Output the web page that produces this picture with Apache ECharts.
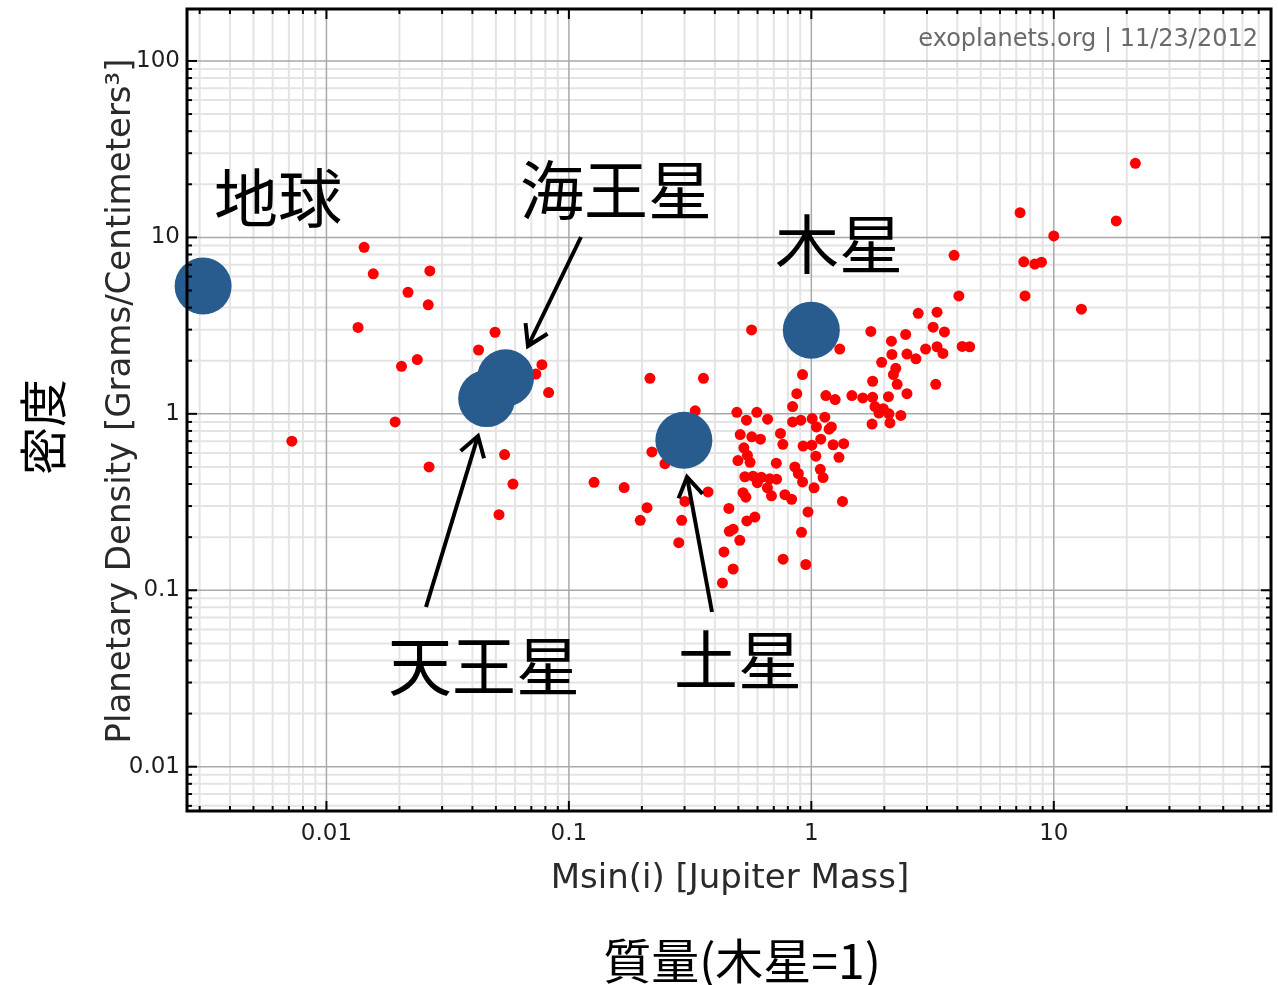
<!DOCTYPE html>
<html>
<head>
<meta charset="utf-8">
<script src="https://cdn.jsdelivr.net/npm/echarts@6/dist/echarts.min.js"></script>
<style>
  html, body { margin: 0; padding: 0; background: #ffffff; }
  #chart { width: 1278px; height: 985px; }
</style>
</head>
<body>
<div id="chart"></div>
<script>
// Known exoplanets: minimum mass Msin(i) in Jupiter masses
const exoMass = [
  0.0072, 0.0135, 0.0143, 0.0156, 0.0217, 0.0267, 0.0263, 0.0237, 0.0204, 0.0192,
  0.0265, 0.0496, 0.0424, 0.0774, 0.0731, 0.0825, 0.0543, 0.0588, 0.0515,
  0.127, 0.169, 0.216, 0.359, 0.332, 0.220, 0.249, 0.375, 0.301, 0.210, 0.197, 0.292, 0.284,
  0.567, 0.920, 0.871, 1.148, 1.254, 0.837, 0.493, 0.596, 0.540, 0.660, 0.837, 0.905,
  1.008, 1.137, 1.050, 1.184, 0.509, 0.568, 0.617, 0.746, 0.763, 1.094, 0.925, 1.005,
  0.527, 0.545, 1.044, 0.498, 0.559, 0.717, 0.855, 1.089, 0.884, 1.118, 0.532, 0.575,
  0.622, 0.674, 0.719, 0.599, 0.920, 0.659, 1.026, 0.523, 0.537, 0.685, 0.778, 0.829,
  1.344, 0.457, 0.585, 0.542, 0.969, 0.476, 0.459, 0.507, 0.911, 0.436, 0.765, 0.949,
  0.476, 0.430,
  1.76, 1.31, 2.14, 2.15, 2.48, 2.70, 1.95, 2.96, 3.30, 3.49, 4.19, 4.50, 2.23, 2.18,
  1.79, 2.26, 3.26, 2.48, 1.47, 1.63, 1.79, 2.08, 1.83, 1.98, 1.90, 2.09, 2.34, 1.78,
  2.11, 1.21, 1.23, 1.36, 1.30, 2.45, 2.76, 3.30, 3.18, 3.54, 3.88, 4.06, 7.26, 7.52,
  8.35, 8.90, 7.61, 10.0, 13.0, 18.1, 21.7
];
// Matching bulk densities in g/cm^3
const exoDensity = [
  0.70, 3.09, 8.78, 6.22, 4.88, 6.46, 4.15, 2.03, 1.86, 0.90,
  0.50, 2.90, 2.30, 1.90, 1.68, 1.32, 0.588, 0.40, 0.268,
  0.409, 0.382, 1.59, 1.59, 1.04, 0.608, 0.522, 0.361, 0.319, 0.294, 0.249, 0.249, 0.186,
  2.99, 1.67, 1.30, 1.27, 1.205, 1.10, 1.02, 1.02, 0.92, 0.932, 0.90, 0.92,
  0.94, 0.957, 0.843, 0.818, 0.763, 0.741, 0.718, 0.774, 0.672, 0.718, 0.657, 0.664,
  0.642, 0.582, 0.575, 0.543, 0.531, 0.525, 0.50, 0.485, 0.459, 0.435, 0.44, 0.443,
  0.437, 0.428, 0.426, 0.407, 0.411, 0.381, 0.381, 0.357, 0.337, 0.343, 0.348, 0.328,
  0.319, 0.291, 0.260, 0.247, 0.278, 0.222, 0.216, 0.192, 0.213, 0.165, 0.150, 0.140,
  0.132, 0.110,
  2.93, 2.33, 2.58, 2.17, 2.18, 2.05, 1.96, 2.33, 2.40, 2.20, 2.41, 2.40, 1.81, 1.67,
  1.53, 1.47, 1.47, 1.30, 1.27, 1.23, 1.24, 1.25, 1.10, 1.07, 1.01, 1.00, 0.98, 0.875,
  0.888, 0.843, 0.668, 0.677, 0.567, 2.82, 3.71, 3.77, 3.10, 2.91, 7.91, 4.66, 13.8, 7.27,
  7.06, 7.24, 4.66, 10.2, 3.92, 12.4, 26.3
];

// Solar-system planets
const solarNames = ['地球', '天王星', '海王星', '土星', '木星'];
const solarMass = [0.0031, 0.0458, 0.0548, 0.298, 1.0];
const solarDensity = [5.3, 1.22, 1.60, 0.708, 2.98];

// Axis ranges and decade ticks
const xRange = [0.00266, 78.7];
const yRange = [0.00561, 197];
const xMajorTicks = [0.01, 0.1, 1, 10];
const xTickLabels = ['0.01', '0.1', '1', '10'];
const xMinorTicks = [
  0.003, 0.004, 0.005, 0.006, 0.007, 0.008, 0.009,
  0.02, 0.03, 0.04, 0.05, 0.06, 0.07, 0.08, 0.09,
  0.2, 0.3, 0.4, 0.5, 0.6, 0.7, 0.8, 0.9,
  2, 3, 4, 5, 6, 7, 8, 9,
  20, 30, 40, 50, 60, 70
];
const yMajorTicks = [0.01, 0.1, 1, 10, 100];
const yTickLabels = ['0.01', '0.1', '1', '10', '100'];
const yMinorTicks = [
  0.006, 0.007, 0.008, 0.009,
  0.02, 0.03, 0.04, 0.05, 0.06, 0.07, 0.08, 0.09,
  0.2, 0.3, 0.4, 0.5, 0.6, 0.7, 0.8, 0.9,
  2, 3, 4, 5, 6, 7, 8, 9,
  20, 30, 40, 50, 60, 70, 80, 90
];

const LATIN = 'DejaVu Sans';
const CJK = '"Noto Sans CJK JP", "Noto Sans CJK SC", sans-serif';

function tickLabel(values, labels) {
  return function (v) {
    for (let i = 0; i < values.length; i++) {
      if (Math.abs(Math.log10(v) - Math.log10(values[i])) < 1e-6) return labels[i];
    }
    return '';
  };
}

// Minor and major grid lines, mapped through the axes
function renderGridLines(params, api) {
  const cs = params.coordSys;
  const children = [];
  const vLine = (v, color, w) => {
    const px = api.coord([v, 1])[0];
    children.push({ type: 'line', shape: { x1: px, y1: cs.y, x2: px, y2: cs.y + cs.height },
      style: { stroke: color, lineWidth: w } });
  };
  const hLine = (v, color, w) => {
    const py = api.coord([1, v])[1];
    children.push({ type: 'line', shape: { x1: cs.x, y1: py, x2: cs.x + cs.width, y2: py },
      style: { stroke: color, lineWidth: w } });
  };
  xMinorTicks.forEach(v => vLine(v, '#e4e4e4', 2));
  yMinorTicks.forEach(v => hLine(v, '#e4e4e4', 2));
  xMajorTicks.forEach(v => vLine(v, '#a9a9a9', 1.5));
  yMajorTicks.forEach(v => hLine(v, '#a9a9a9', 1.5));
  return { type: 'group', silent: true, children };
}

// Plot frame with inward ticks on all four sides
function renderFrame(params, api) {
  const cs = params.coordSys;
  const L = cs.x, R = cs.x + cs.width, T = cs.y, B = cs.y + cs.height;
  const children = [];
  const tick = (x1, y1, x2, y2) => children.push({ type: 'line',
    shape: { x1, y1, x2, y2 }, style: { stroke: '#000', lineWidth: 2 } });
  const xTicks = (v, len) => {
    const px = api.coord([v, 1])[0];
    tick(px, B, px, B - len);
    tick(px, T, px, T + len);
  };
  const yTicks = (v, len) => {
    const py = api.coord([1, v])[1];
    tick(L, py, L + len, py);
    tick(R, py, R - len, py);
  };
  xMinorTicks.forEach(v => xTicks(v, 5));
  yMinorTicks.forEach(v => yTicks(v, 5));
  xMajorTicks.forEach(v => xTicks(v, 10));
  yMajorTicks.forEach(v => yTicks(v, 10));
  children.push({ type: 'rect', shape: { x: L, y: T, width: R - L, height: B - T },
    style: { fill: null, stroke: '#000', lineWidth: 3 } });
  return { type: 'group', silent: true, children };
}

// Annotation arrows (tail -> head)
const arrowPaths = [
  { from: [581, 237], to: [528, 346] },
  { from: [426, 607], to: [478, 436] },
  { from: [712, 612], to: [687, 477] }
];
function arrowElements(a) {
  const ang = Math.atan2(a.to[1] - a.from[1], a.to[0] - a.from[0]);
  const len = 23, spread = 0.56;
  const p1 = [a.to[0] - len * Math.cos(ang - spread), a.to[1] - len * Math.sin(ang - spread)];
  const p2 = [a.to[0] - len * Math.cos(ang + spread), a.to[1] - len * Math.sin(ang + spread)];
  return [
    { type: 'line', z: 100, shape: { x1: a.from[0], y1: a.from[1], x2: a.to[0], y2: a.to[1] },
      style: { stroke: '#000', lineWidth: 4 } },
    { type: 'polyline', z: 100, shape: { points: [p1, a.to, p2] },
      style: { stroke: '#000', lineWidth: 4, fill: null, lineJoin: 'miter' } }
  ];
}

// Planet name labels
const nameLabels = [
  { text: '地球', x: 278, y: 198 },
  { text: '海王星', x: 616, y: 190 },
  { text: '木星', x: 839, y: 244 },
  { text: '天王星', x: 484, y: 666 },
  { text: '土星', x: 738, y: 660 }
];

const graphics = [];
nameLabels.forEach(l => graphics.push({
  type: 'text', z: 100, x: l.x, y: l.y,
  style: { text: l.text, font: '64px ' + CJK, fill: '#000', align: 'center', verticalAlign: 'middle' }
}));
arrowPaths.forEach(a => graphics.push(...arrowElements(a)));
graphics.push(
  { type: 'text', z: 100, x: 1258, y: 40,
    style: { text: 'exoplanets.org | 11/23/2012', font: '24px "' + LATIN + '"', fill: '#6a6a6a',
      align: 'right', verticalAlign: 'middle' } },
  { type: 'text', z: 100, x: 730, y: 879,
    style: { text: 'Msin(i) [Jupiter Mass]', font: '34px "' + LATIN + '"', fill: '#2a2a2a',
      align: 'center', verticalAlign: 'middle' } },
  { type: 'text', z: 100, x: 121, y: 401, rotation: Math.PI / 2,
    style: { text: 'Planetary Density [Grams/Centimeters³]', font: '34px "' + LATIN + '"', fill: '#2a2a2a',
      align: 'center', verticalAlign: 'middle' } },
  { type: 'text', z: 100, x: 742, y: 961,
    style: { text: '質量(木星=1)', font: '48px ' + CJK, fill: '#000', align: 'center', verticalAlign: 'middle' } },
  { type: 'text', z: 100, x: 43, y: 427, rotation: Math.PI / 2,
    style: { text: '密度', font: '48px ' + CJK, fill: '#000', align: 'center', verticalAlign: 'middle' } }
);

const chart = echarts.init(document.getElementById('chart'), null, { renderer: 'canvas' });
chart.setOption({
  backgroundColor: '#ffffff',
  animation: false,
  grid: { left: 187, right: 7, top: 9, bottom: 174, containLabel: false },
  xAxis: {
    type: 'log', logBase: 10, min: xRange[0], max: xRange[1],
    axisLine: { show: false }, axisTick: { show: false }, splitLine: { show: false },
    axisLabel: { formatter: tickLabel(xMajorTicks, xTickLabels), margin: 12,
      fontFamily: LATIN, fontSize: 23, color: '#1e1e1e' }
  },
  yAxis: {
    type: 'log', logBase: 10, min: yRange[0], max: yRange[1],
    axisLine: { show: false }, axisTick: { show: false }, splitLine: { show: false },
    axisLabel: { formatter: tickLabel(yMajorTicks, yTickLabels), margin: 7,
      fontFamily: LATIN, fontSize: 23, color: '#1e1e1e' }
  },
  graphic: graphics,
  series: [
    { type: 'custom', name: 'grid', z: 1, clip: false, silent: true,
      renderItem: renderGridLines, data: [[1, 1]] },
    { type: 'scatter', name: 'Exoplanets', z: 3, symbol: 'circle', symbolSize: 11,
      itemStyle: { color: '#ff0000', opacity: 1 },
      data: exoMass.map((m, i) => [m, exoDensity[i]]) },
    { type: 'scatter', name: 'Solar system', z: 4, symbol: 'circle', symbolSize: 57,
      itemStyle: { color: '#285c8e', opacity: 1 },
      data: solarMass.map((m, i) => ({ name: solarNames[i], value: [m, solarDensity[i]] })) },
    { type: 'custom', name: 'frame', z: 6, clip: false, silent: true,
      renderItem: renderFrame, data: [[1, 1]] }
  ]
});
</script>
</body>
</html>
